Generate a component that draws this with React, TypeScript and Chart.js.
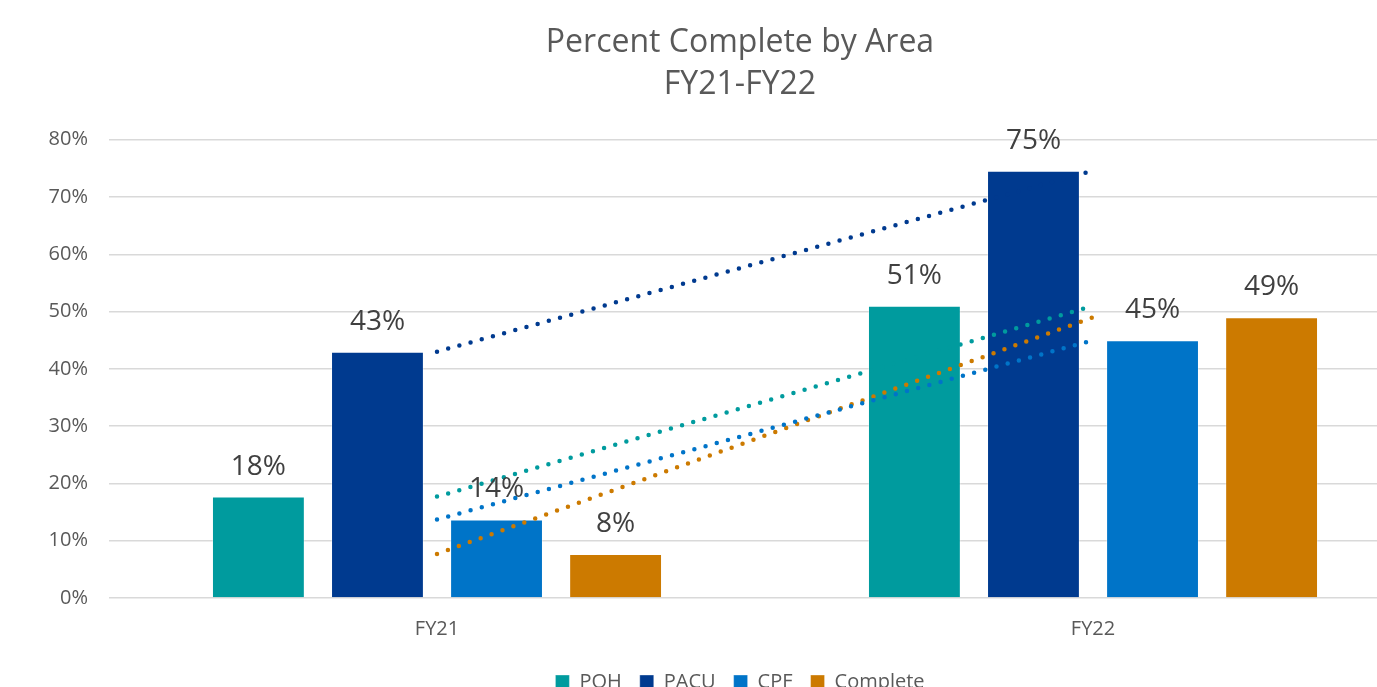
import React, { useEffect, useRef } from "react";
import { Chart, registerables } from "chart.js";

Chart.register(...registerables);

const categories = ["FY21", "FY22"];
const seriesNames = ["POH", "PACU", "CPF", "Complete"];
const pohValues = [0.177, 0.51];
const pacuValues = [0.43, 0.746];
const cpfValues = [0.137, 0.45];
const completeValues = [0.077, 0.49];
const seriesColors = ["#009B9E", "#003A8F", "#0074C8", "#CC7A00"];
const titleLines = ["Percent Complete by Area", "FY21-FY22"];

const FONT = "'Open Sans', sans-serif";

const dataLabelPlugin = {
  id: "dataLabels",
  afterDatasetsDraw(chart: any) {
    const ctx = chart.ctx;
    ctx.save();
    ctx.font = `28px ${FONT}`;
    ctx.fillStyle = "#404040";
    ctx.textAlign = "center";
    ctx.textBaseline = "middle";
    chart.data.datasets.forEach((ds: any, di: number) => {
      if (ds.type !== "bar") return;
      const meta = chart.getDatasetMeta(di);
      meta.data.forEach((el: any, i: number) => {
        const v = ds.data[i];
        ctx.fillText(`${Math.round(v * 100)}%`, el.x, el.y - 30);
      });
    });
    ctx.restore();
  },
};

export default function App() {
  const ref = useRef<HTMLCanvasElement>(null);
  useEffect(() => {
    document.documentElement.style.overflow = "hidden";
    document.body.style.overflow = "hidden";
    document.body.style.margin = "0";
    const all = [pohValues, pacuValues, cpfValues, completeValues];
    const barSets = all.map((vals, i) => ({
      type: "bar" as const,
      label: seriesNames[i],
      data: vals,
      backgroundColor: seriesColors[i],
      borderColor: "rgba(255,255,255,0.35)",
      borderWidth: 1,
      barPercentage: 0.78,
      categoryPercentage: 0.726,
      order: 1,
    }));
    const trendSets = all.map((vals, i) => ({
      type: "line" as const,
      label: seriesNames[i] + " trend",
      data: vals,
      borderColor: seriesColors[i],
      borderWidth: 4.5,
      borderDash: [0, 11.6],
      borderCapStyle: "round" as const,
      pointRadius: 0,
      fill: false,
      tension: 0,
      order: 0,
    }));
    const chart = new Chart(ref.current!, {
      type: "bar",
      data: { labels: categories, datasets: [...barSets, ...trendSets] as any },
      plugins: [dataLabelPlugin],
      options: {
        animation: false,
        responsive: false,
        layout: { padding: { left: 0, right: 0, top: 0, bottom: 3 } },
        plugins: {
          tooltip: { enabled: false },
          title: {
            display: true,
            text: titleLines,
            color: "#595959",
            font: { family: FONT, size: 32, weight: "normal", lineHeight: 1.34 },
            padding: { top: 21, bottom: 33 },
          },
          legend: {
            position: "bottom",
            labels: {
              filter: (item: any) => item.datasetIndex < 4,
              boxWidth: 14,
              boxHeight: 14,
              padding: 18,
              color: "#595959",
              font: { family: FONT, size: 20 },
            },
          },
        },
        scales: {
          x: {
            afterFit: (scale: any) => {
              scale.height = 56;
            },
            grid: { display: false },
            border: { display: false },
            ticks: { color: "#595959", font: { family: FONT, size: 20 }, padding: 11 },
          },
          y: {
            min: 0,
            max: 0.8,
            afterFit: (scale: any) => {
              scale.width = 109;
            },
            grid: { color: "#D9D9D9", lineWidth: 1.5, drawTicks: false },
            border: { display: false },
            ticks: {
              stepSize: 0.1,
              padding: 21,
              color: "#595959",
              font: { family: FONT, size: 20 },
              callback: (v: any) => `${Math.round(Number(v) * 100)}%`,
            },
          },
          yRightSpace: {
            position: "right",
            min: 0,
            max: 0.8,
            afterFit: (scale: any) => {
              scale.width = 59;
            },
            grid: { display: false, drawTicks: false },
            border: { display: false },
            ticks: { display: false },
          },
        },
      },
    });
    return () => chart.destroy();
  }, []);
  return (
    <div style={{ position: "absolute", left: 0, top: 0, width: 1480, height: 705 }}>
      <canvas ref={ref} width={1480} height={705} />
    </div>
  );
}
